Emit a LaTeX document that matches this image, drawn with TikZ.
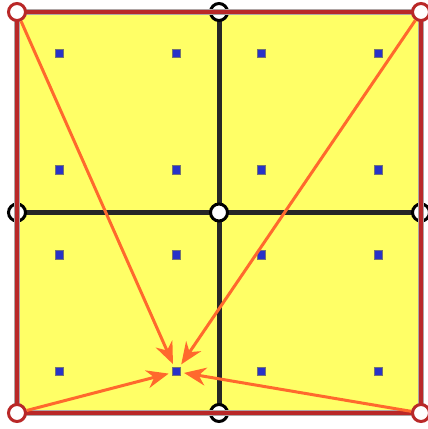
\documentclass[tikz,border=0pt]{standalone}
\usetikzlibrary{arrows.meta}
\definecolor{fillyel}{RGB}{255,255,102}
\definecolor{bordred}{RGB}{185,40,40}
\definecolor{bordgray}{RGB}{175,165,165}
\definecolor{arrorg}{RGB}{255,105,45}
\definecolor{dotblue}{RGB}{40,50,200}
\tikzset{
  vtxred/.style={circle,draw=bordred,fill=white,line width=3pt,minimum size=17pt,inner sep=0pt},
  vtxblk/.style={circle,draw=black,fill=white,line width=3pt,minimum size=17pt,inner sep=0pt},
  gp/.style={rectangle,draw=black!55,fill=dotblue,line width=1pt,minimum size=8.5pt,inner sep=0pt},
  arr/.style={draw=arrorg,line width=3pt,-{Stealth[length=22pt,width=18pt]},shorten >=3pt},
  gridln/.style={draw=black!85,line width=5pt},
  bordout/.style={draw=bordgray,line width=5.5pt},
  bord/.style={draw=bordred,line width=4pt}
}
\begin{document}
\begin{tikzpicture}[x=1pt,y=-1pt]
\useasboundingbox (0,0) rectangle (428,429);
\coordinate (TL) at (17,12);
\coordinate (TR) at (421,12);
\coordinate (BL) at (17,413);
\coordinate (BR) at (421,413);
\coordinate (TM) at (219,12);
\coordinate (BM) at (219,413);
\coordinate (LM) at (17,212.5);
\coordinate (RM) at (421,212.5);
\fill[fillyel] (TL) rectangle (BR);
\draw[gridln] (TM) -- (BM);
\draw[gridln] (LM) -- (RM);
% Gauss points
\foreach \i/\x in {1/59.7,2/176.3,3/261.7,4/378.3}{
  \foreach \j/\y in {1/53.4,2/170.1,3/254.9,4/371.6}{
    \node[gp] (g\i\j) at (\x,\y) {};
  }
}
\node[vtxblk] (tm) at (TM) {};
\node[vtxblk] (bm) at (BM) {};
\node[vtxblk] (lm) at (LM) {};
\node[vtxblk] (rm) at (RM) {};
\node[vtxblk] (c) at (219,212.5) {};
\draw[bordout] (TL) rectangle (BR);
\draw[bord] (TL) rectangle (BR);
\node[vtxred] (tl) at (TL) {};
\node[vtxred] (tr) at (TR) {};
\node[vtxred] (bl) at (BL) {};
\node[vtxred] (br) at (BR) {};
\draw[arr] (tl) -- (g24);
\draw[arr] (tr) -- (g24);
\draw[arr] (bl) -- (g24);
\draw[arr] (br) -- (g24);
\end{tikzpicture}
\end{document}
